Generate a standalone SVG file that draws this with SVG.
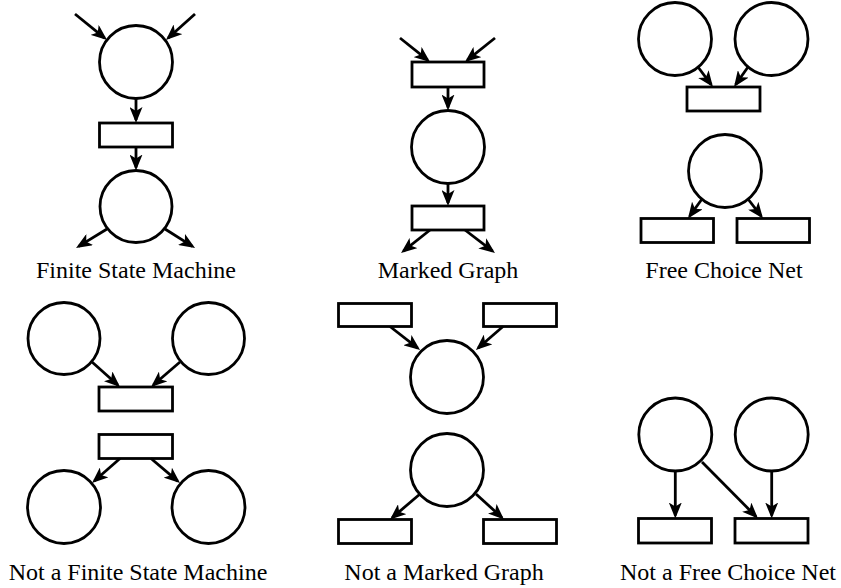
<svg xmlns="http://www.w3.org/2000/svg" width="841" height="588" viewBox="0 0 841 588">
  <style>
    .place { fill: #ffffff; stroke: #000000; stroke-width: 2.8; }
    .trans { fill: #ffffff; stroke: #000000; stroke-width: 2.8; }
    .arc { fill: none; stroke: #000000; stroke-width: 2.8; marker-end: url(#head); }
    .label { font-family: "Liberation Serif", "Times New Roman", serif; font-size: 24px; fill: #000000; text-anchor: middle; }
  </style>
  <defs>
    <marker id="head" markerUnits="userSpaceOnUse" markerWidth="16" markerHeight="13" refX="13" refY="6.5" orient="auto">
      <path d="M0,0 L16,6.5 L0,13 L4,6.5 Z" fill="#000000"/>
    </marker>
  </defs>
  <rect width="841" height="588" fill="#ffffff"/>

  <!-- Finite State Machine -->
  <g id="fsm">
    <g id="fsm-p1"><circle class="place" cx="136" cy="62" r="36.5"/></g>
    <g id="fsm-t1"><rect class="trans" x="99.5" y="123" width="73" height="24"/></g>
    <g id="fsm-p2"><circle class="place" cx="136" cy="206.5" r="36"/></g>
    <text class="label" x="136" y="278">Finite State Machine</text>
  </g>

  <!-- Marked Graph -->
  <g id="mg">
    <g id="mg-t1"><rect class="trans" x="412" y="62" width="72" height="25"/></g>
    <g id="mg-p1"><circle class="place" cx="448" cy="147" r="36.5"/></g>
    <g id="mg-t2"><rect class="trans" x="412" y="206" width="72" height="24"/></g>
    <text class="label" x="448" y="278">Marked Graph</text>
  </g>

  <!-- Free Choice Net -->
  <g id="fc">
    <g id="fc-p1"><circle class="place" cx="675" cy="39" r="36.5"/></g>
    <g id="fc-p2"><circle class="place" cx="771.5" cy="39" r="36.5"/></g>
    <g id="fc-t1"><rect class="trans" x="687" y="87" width="73" height="24"/></g>
    <g id="fc-p3"><circle class="place" cx="725" cy="171" r="36.5"/></g>
    <g id="fc-t2"><rect class="trans" x="641" y="218.5" width="72.5" height="24"/></g>
    <g id="fc-t3"><rect class="trans" x="737" y="218.5" width="72.5" height="24"/></g>
    <text class="label" x="724" y="278">Free Choice Net</text>
  </g>

  <!-- Not a Finite State Machine -->
  <g id="nfsm">
    <g id="nfsm-p1"><circle class="place" cx="64" cy="338.5" r="36"/></g>
    <g id="nfsm-p2"><circle class="place" cx="208.5" cy="338.5" r="36"/></g>
    <g id="nfsm-t1"><rect class="trans" x="99" y="387" width="73.5" height="24"/></g>
    <g id="nfsm-t2"><rect class="trans" x="99" y="434.5" width="73.5" height="24"/></g>
    <g id="nfsm-p3"><circle class="place" cx="64" cy="507" r="36.5"/></g>
    <g id="nfsm-p4"><circle class="place" cx="208.5" cy="507" r="36.5"/></g>
    <text class="label" x="138" y="580">Not a Finite State Machine</text>
  </g>

  <!-- Not a Marked Graph -->
  <g id="nmg">
    <g id="nmg-t1"><rect class="trans" x="338.5" y="303.5" width="73" height="23"/></g>
    <g id="nmg-t2"><rect class="trans" x="483.5" y="303.5" width="73" height="23"/></g>
    <g id="nmg-p1"><circle class="place" cx="447" cy="377" r="36.5"/></g>
    <g id="nmg-p2"><circle class="place" cx="447" cy="470" r="36.5"/></g>
    <g id="nmg-t3"><rect class="trans" x="338.5" y="519.5" width="73" height="24"/></g>
    <g id="nmg-t4"><rect class="trans" x="483.5" y="519.5" width="73" height="24"/></g>
    <text class="label" x="444" y="580">Not a Marked Graph</text>
  </g>

  <!-- Not a Free Choice Net -->
  <g id="nfc">
    <g id="nfc-p1"><circle class="place" cx="675.3" cy="434.5" r="36.5"/></g>
    <g id="nfc-p2"><circle class="place" cx="771.7" cy="434.5" r="36.5"/></g>
    <g id="nfc-t1"><rect class="trans" x="638.5" y="518.5" width="73" height="24.5"/></g>
    <g id="nfc-t2"><rect class="trans" x="735" y="518.5" width="73" height="24.5"/></g>
    <text class="label" x="728" y="580">Not a Free Choice Net</text>
  </g>

  <!-- arcs: each line stops 3px short of its target; the marker tip covers the gap -->
  <g id="arcs">
    <line class="arc" x1="75" y1="14" x2="104.7" y2="38.1"/>
    <line class="arc" x1="195" y1="14" x2="168.2" y2="38"/>
    <line class="arc" x1="136" y1="98.5" x2="136" y2="120"/>
    <line class="arc" x1="136" y1="147" x2="136" y2="167.5"/>
    <line class="arc" x1="107" y1="229" x2="78.6" y2="246.4"/>
    <line class="arc" x1="165" y1="229" x2="192.5" y2="246.4"/>

    <line class="arc" x1="400" y1="38" x2="427.7" y2="60.1"/>
    <line class="arc" x1="495" y1="38" x2="467.3" y2="60.1"/>
    <line class="arc" x1="448" y1="87" x2="448" y2="107.5"/>
    <line class="arc" x1="448" y1="183.5" x2="448" y2="203"/>
    <line class="arc" x1="430" y1="230" x2="403.4" y2="251.1"/>
    <line class="arc" x1="465" y1="230" x2="492.6" y2="251.2"/>

    <line class="arc" x1="698" y1="67" x2="711.2" y2="84.6"/>
    <line class="arc" x1="748" y1="67" x2="735.7" y2="84.5"/>
    <line class="arc" x1="702" y1="199" x2="689.7" y2="216"/>
    <line class="arc" x1="748" y1="199" x2="761.2" y2="216.1"/>

    <line class="arc" x1="92" y1="362" x2="117.8" y2="385"/>
    <line class="arc" x1="180" y1="362" x2="153.3" y2="385"/>
    <line class="arc" x1="120" y1="458.5" x2="94.3" y2="481"/>
    <line class="arc" x1="151" y1="458.5" x2="177.7" y2="481.1"/>

    <line class="arc" x1="390" y1="326.5" x2="417.7" y2="348.1"/>
    <line class="arc" x1="503" y1="326.5" x2="478.2" y2="348"/>
    <line class="arc" x1="420" y1="494" x2="392.3" y2="517.6"/>
    <line class="arc" x1="476" y1="494" x2="501.8" y2="517.5"/>

    <line class="arc" x1="675.3" y1="471" x2="675.3" y2="515.5"/>
    <line class="arc" x1="771.7" y1="471" x2="771.7" y2="515.5"/>
    <line class="arc" x1="702" y1="462" x2="755.9" y2="516.4"/>
  </g>
</svg>
